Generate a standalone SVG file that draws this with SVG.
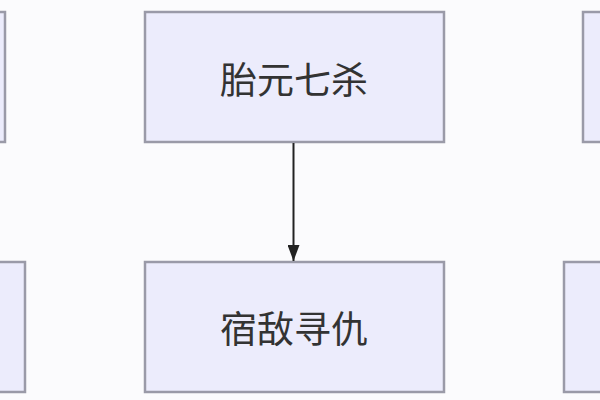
<svg xmlns="http://www.w3.org/2000/svg" width="600" height="400" viewBox="0 0 600 400">
<style>
.node rect{fill:#ececfc;stroke:#9a9aa8;stroke-width:2.5}
.node text{font-family:"Noto Sans CJK SC","Liberation Sans",sans-serif;font-size:37px;fill:#333;text-anchor:middle;dominant-baseline:central}
.edge{stroke:#222;stroke-width:2;fill:none}
</style>
<defs>
<marker id="arr" markerWidth="16" markerHeight="12" refX="16" refY="6" orient="auto" markerUnits="userSpaceOnUse" viewBox="0 0 16 12">
<path d="M0,0 L16,6 L0,12 Z" fill="#222"/>
</marker>
</defs>
<rect width="600" height="400" fill="#fbfbfd"/>
<g id="n-top-left" class="node"><rect x="-300" y="12" width="305" height="130"/></g>
<g id="n-top-right" class="node"><rect x="583" y="12" width="300" height="130"/></g>
<g id="n-bot-left" class="node"><rect x="-280" y="262" width="305" height="130"/></g>
<g id="n-bot-right" class="node"><rect x="564" y="262" width="300" height="130"/></g>
<g id="n-taiyuan" class="node"><rect x="145" y="12" width="299" height="130"/><text x="294" y="78">胎元七杀</text></g>
<g id="n-sudi" class="node"><rect x="145" y="262" width="299" height="130"/><text x="294" y="327">宿敌寻仇</text></g>
<g id="edges"><line class="edge" x1="293.5" y1="143" x2="293.5" y2="261" marker-end="url(#arr)"/></g>
</svg>
